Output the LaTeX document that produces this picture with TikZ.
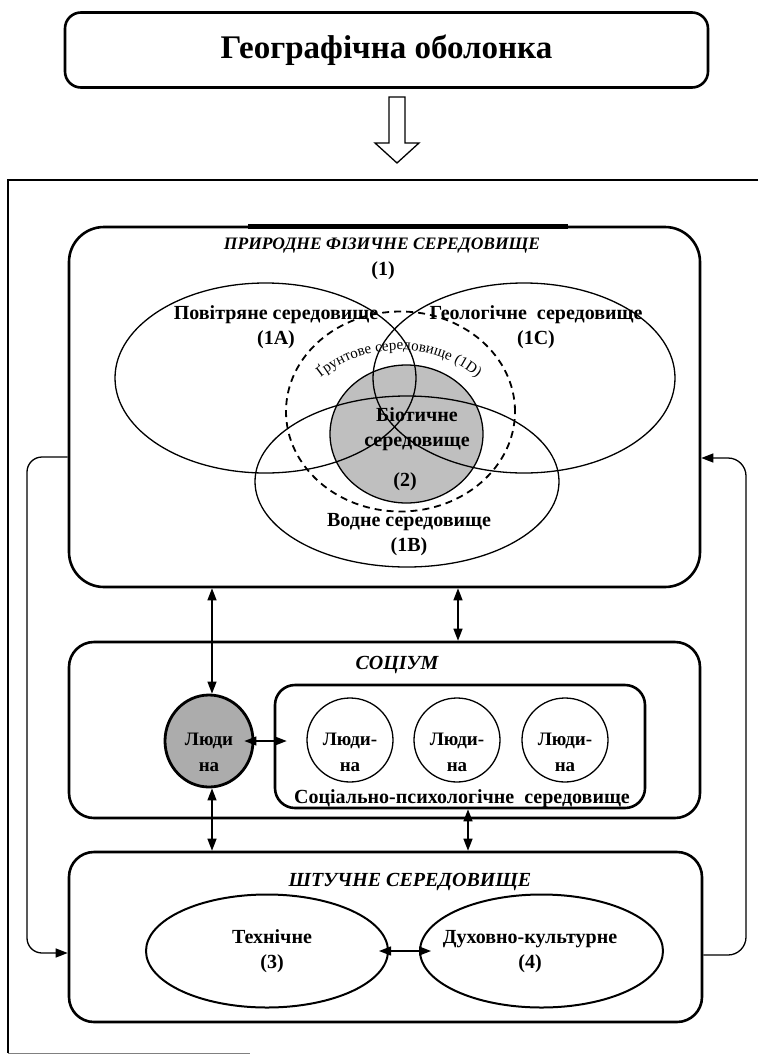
\documentclass[tikz,border=0pt]{standalone}
\usepackage{fontspec}
\setmainfont{Liberation Serif}
\usetikzlibrary{arrows.meta,shapes.geometric,decorations.text}
\begin{document}
\begin{tikzpicture}[x=1pt,y=-1pt,
  box/.style={draw, line width=2.6pt, rounded corners=#1, inner sep=0pt},
  ell/.style={draw, ellipse, line width=1.3pt, inner sep=0pt},
  lbl/.style={font=\fontsize{20}{25}\selectfont\bfseries, inner sep=0pt, align=center},
  ttl/.style={font=\fontsize{20}{22}\selectfont\bfseries\itshape, inner sep=0pt},
  hum/.style={font=\fontsize{19}{26}\selectfont\bfseries, inner sep=0pt, align=center},
  arr/.style={line width=1.3pt, {Triangle[length=12pt,width=9pt]}-{Triangle[length=12pt,width=9pt]}},
  sarr/.style={line width=1.3pt, -{Triangle[length=12pt,width=9pt]}},
  ]
\useasboundingbox (0,0) rectangle (758,1055);

% ---- top box and hollow arrow
\node[box=16pt, minimum width=643pt, minimum height=75pt,
      font=\fontsize{33}{35}\selectfont\bfseries] (geo) at (386.5,50) {Географічна оболонка};
\draw[line width=1.3pt, fill=white] (389,97) -- (405,97) -- (405,143) -- (419,143)
      -- (397,163) -- (375,143) -- (389,143) -- cycle;

% ---- outer frame
\coordinate (fTL) at (8,180);
\coordinate (fTR) at (758,180);
\coordinate (fBL) at (8,1053);
\coordinate (fBR) at (250,1053);
\draw[line width=2.6pt] (fTR) -- (fTL) -- (fBL);
\draw[line width=1pt, gray] (fBL) -- (fBR);

% ---- natural physical environment
\node[box=35pt, minimum width=631pt, minimum height=360pt] (nat) at (384.5,407) {};
\draw[line width=4.5pt] (248,226.5) -- (568,226.5);
\node[ttl, font=\fontsize{17.5}{20}\selectfont\bfseries\itshape] (natT) at (382,246) {ПРИРОДНЕ ФІЗИЧНЕ СЕРЕДОВИЩЕ};
\node[lbl] (natN) at (383,271) {(1)};

\node[ell, fill=gray!50, minimum width=153pt, minimum height=138pt] (bio) at (406.5,434) {};
\node[ell, minimum width=301pt, minimum height=190pt] (air) at (265.5,378) {};
\node[ell, minimum width=302pt, minimum height=190pt] (geol) at (524,378) {};
\node[ell, minimum width=304pt, minimum height=171pt] (water) at (407,481.5) {};
\node[ell, line width=1.8pt, dash pattern=on 7pt off 5pt, minimum width=229pt, minimum height=200pt] (soil) at (400.5,411.5) {};

\node[lbl] (airL) at (276,327.5) {Повітряне середовище\\(1A)};
\node[lbl] (geolL) at (536,327.5) {Геологічне\ \ середовище\\(1C)};
\node[lbl] (bioL) at (417,429.5) {Біотичне\\середовище};
\node[lbl] (bioN) at (405,482) {(2)};
\node[lbl] (waterL) at (409,534.5) {Водне середовище\\(1B)};
\begin{scope}[shift={(399,475)}, x=1pt, y=1pt]
\path[decorate, decoration={text along path, text align=center,
      text={|\fontsize{15}{16}\selectfont|Ґрунтове середовище (1D)}}]
  (150:125) arc[start angle=150, end angle=30, radius=125pt];
\end{scope}

% ---- socium
\node[box=25pt, minimum width=631pt, minimum height=176pt] (soc) at (384.5,730) {};
\node[ttl] (socT) at (397,665) {СОЦІУМ};
\node[box=20pt, minimum width=370pt, minimum height=123pt] (inner) at (460,746.5) {};
\node[ell, line width=2.8pt, fill=gray!65, minimum width=88pt, minimum height=92pt] (pg) at (209,741) {};
\node[hum] (pgL) at (209,752) {Люди\\на};
\node[ell, minimum width=86pt, minimum height=84pt] (c1) at (350,740) {};
\node[ell, minimum width=86pt, minimum height=84pt] (c2) at (457,740) {};
\node[ell, minimum width=86pt, minimum height=84pt] (c3) at (565,740) {};
\node[hum] (c1L) at (350,752) {Люди-\\на};
\node[hum] (c2L) at (457,752) {Люди-\\на};
\node[hum] (c3L) at (565,752) {Люди-\\на};
\node[lbl] (innerL) at (462,799) {Соціально-психологічне\ \ середовище};

% ---- artificial environment
\node[box=25pt, minimum width=633pt, minimum height=170pt] (art) at (385.5,937) {};
\node[ttl] (artT) at (410,882) {ШТУЧНЕ СЕРЕДОВИЩЕ};
\node[ell, line width=2pt, minimum width=242pt, minimum height=113pt] (tech) at (267,951) {};
\node[ell, line width=2pt, minimum width=243pt, minimum height=113pt] (cult) at (541.5,951) {};
\node[lbl] (techL) at (272,951.5) {Технічне\\(3)};
\node[lbl] (cultL) at (530,951.5) {Духовно-культурне\\(4)};

% ---- connectors
\coordinate (a1) at (212,0);
\coordinate (a2) at (458,0);
\coordinate (a3) at (468,0);
\draw[arr] (a1 |- nat.south) -- (a1 |- pg.north);
\draw[arr] (a2 |- nat.south) -- (a2 |- soc.north);
\draw[arr] (a1 |- pg.south) -- (a1 |- art.north);
\draw[arr] (a3 |- inner.south) -- (a3 |- art.north);
\draw[arr] ([xshift=-10pt]pg.east) -- ([xshift=13pt]inner.west |- pg.east);
\draw[arr] ([xshift=-10pt]tech.east) -- ([xshift=12pt]cult.west);

\coordinate (l1) at (27,457);
\coordinate (l2) at (27,953);
\draw[sarr, rounded corners=15pt] (nat.west |- l1) -- (l1) -- (l2) -- (art.west |- l2);
\coordinate (r1) at (746,955);
\coordinate (r2) at (746,458);
\draw[sarr, rounded corners=18pt] (art.east |- r1) -- (r1) -- (r2) -- (nat.east |- r2);
\end{tikzpicture}
\end{document}
